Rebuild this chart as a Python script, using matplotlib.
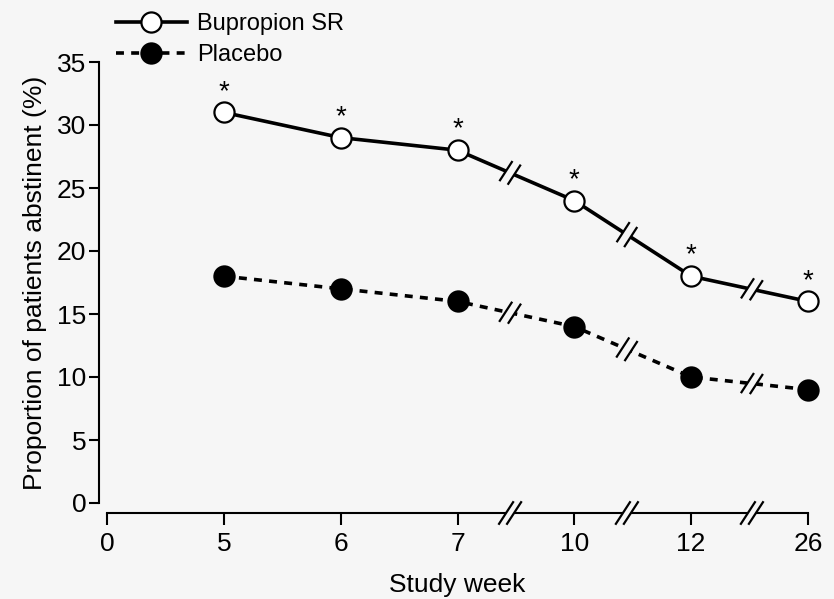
import numpy as np
import matplotlib
matplotlib.use("Agg")
import matplotlib.pyplot as plt

# Study weeks shown on the x axis (categorical, with breaks after 7, 10 and 12)
weeks = ["0", "5", "6", "7", "10", "12", "26"]
data_weeks = ["5", "6", "7", "10", "12", "26"]
bupropion = [31, 29, 28, 24, 18, 16]
placebo = [18, 17, 16, 14, 10, 9]
significant = [True, True, True, True, True, True]
yticks = [0, 5, 10, 15, 20, 25, 30, 35]
break_positions = [3.45, 4.45, 5.52]   # between 7|10, 10|12, 12|26

BG = "#f6f6f6"
plt.rcParams["font.family"] = ["Liberation Sans", "DejaVu Sans"]

fig = plt.figure(figsize=(8.34, 5.99), dpi=100, facecolor=BG)
ax = fig.add_axes([107 / 834, 96 / 599, 701 / 834, 441 / 599])
ax.set_facecolor(BG)

pos = {w: i for i, w in enumerate(weeks)}
xs = np.array([pos[w] for w in data_weeks], dtype=float)

line_b, = ax.plot(xs, bupropion, color="black", lw=2.6, marker="o", ms=14.5,
                  mfc="white", mec="black", mew=1.6, zorder=4, clip_on=False,
                  label="Bupropion SR")
line_p, = ax.plot(xs, placebo, color="black", lw=2.6, ls=(0, (2.2, 2.0)),
                  marker="o", ms=14.5, mfc="black", mec="black", mew=1.6,
                  zorder=4, clip_on=False, label="Placebo")

ax.set_xlim(0, 6)
ax.set_ylim(0, 35)
ax.set_xticks(range(len(weeks)), weeks)
ax.set_yticks(yticks)

for s in ("top", "right"):
    ax.spines[s].set_visible(False)
ax.spines["left"].set_position(("outward", 5.8))
ax.spines["bottom"].set_position(("outward", 7.2))
for s in ("left", "bottom"):
    ax.spines[s].set_linewidth(1.5)

ax.tick_params(axis="both", direction="out", width=1.5, labelsize=19,
               colors="black")
ax.tick_params(axis="x", length=8.5, pad=5.5)
ax.tick_params(axis="y", length=7, pad=2)

ax.set_xlabel("Study week", fontsize=19, labelpad=12)
ax.set_ylabel("Proportion of patients abstinent (%)", fontsize=19, labelpad=7)

# significance asterisks above the bupropion points
for x, y, sig in zip(xs, bupropion, significant):
    if sig:
        ax.annotate("*", (x, y), xytext=(0, 5.5), textcoords="offset points",
                    ha="center", va="bottom", fontsize=20, zorder=5)

# pixel -> data scale
p0 = ax.transData.transform((0, 0))
p1 = ax.transData.transform((1, 1))
sx = p1[0] - p0[0]
sy = p1[1] - p0[1]


def break_mark(xc, yc, direction, gap=4.0, sep=4.0, length=24, angle=57,
               lw=1.6, cover_lw=6):
    """Draw a '//' break at (xc, yc); direction is a unit vector in pixels."""
    dx, dy = direction
    # erase a short stretch of the underlying line
    ax.plot([xc - gap * dx / sx, xc + gap * dx / sx],
            [yc - gap * dy / sy, yc + gap * dy / sy],
            color=BG, lw=cover_lw, solid_capstyle="butt", zorder=4.5,
            clip_on=False)
    a = np.deg2rad(angle)
    ux, uy = np.cos(a), np.sin(a)
    for k in (-1, 1):
        cx = xc + k * sep * dx / sx
        cy = yc + k * sep * dy / sy
        ax.plot([cx - length / 2 * ux / sx, cx + length / 2 * ux / sx],
                [cy - length / 2 * uy / sy, cy + length / 2 * uy / sy],
                color="black", lw=lw, solid_capstyle="butt", zorder=4.6,
                clip_on=False)


for series in (bupropion, placebo):
    vals = np.array(series, dtype=float)
    for bx in break_positions:
        i = np.searchsorted(xs, bx) - 1
        ddx = (xs[i + 1] - xs[i]) * sx
        ddy = (vals[i + 1] - vals[i]) * sy
        n = np.hypot(ddx, ddy)
        yc = np.interp(bx, xs, vals)
        break_mark(bx, yc, (ddx / n, ddy / n), gap=4.5, sep=4.5, length=24,
                   lw=1.6, cover_lw=7)

# breaks on the x axis line
axis_y = -7.2 * 100 / 72 / sy
for bx in break_positions:
    break_mark(bx, axis_y, (1.0, 0.0), gap=4.0, sep=4.0, length=28,
               lw=1.6, cover_lw=4)

leg = fig.legend(handles=[line_b, line_p], loc="upper left",
                 bbox_to_anchor=(116 / 834, 1 - 13 / 599), frameon=False,
                 fontsize=17, handlelength=3.0, handletextpad=0.45,
                 labelspacing=0.4, borderaxespad=0, borderpad=0)

fig.savefig("out.png", dpi=100, facecolor=BG)
